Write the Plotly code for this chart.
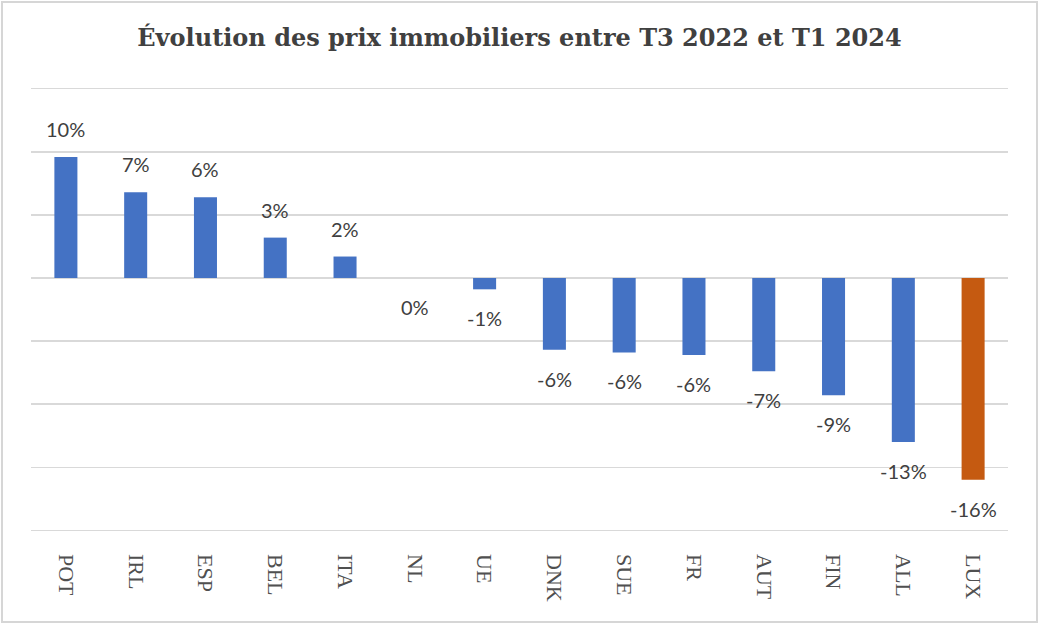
import plotly.graph_objects as go

categories = ["POT", "IRL", "ESP", "BEL", "ITA", "NL", "UE", "DNK", "SUE", "FR", "AUT", "FIN", "ALL", "LUX"]
values = [9.6, 6.8, 6.4, 3.2, 1.7, 0.0, -0.9, -5.7, -5.9, -6.1, -7.4, -9.3, -13.0, -16.0]
highlight = "LUX"

BLUE = "#4472C4"
ORANGE = "#C55A11"
colors = [ORANGE if c == highlight else BLUE for c in categories]
labels = [f"{round(v)}%" for v in values]

W, H = 1040, 625
ml, mr, mt, mb = 31, 32, 85, 91

fig = go.Figure()
fig.add_trace(go.Bar(
    x=categories, y=values, marker=dict(color=colors, line=dict(width=0)),
    width=0.33, hoverinfo="skip", showlegend=False,
))

for c, v, t in zip(categories, values, labels):
    fig.add_annotation(
        x=c, y=v, text=t, showarrow=False,
        yshift=28 if v > 0 else -29,
        font=dict(family="Lato", size=20, color="#404040"),
    )

pw = W - ml - mr
ph = H - mt - mb
fig.add_shape(
    type="rect", xref="paper", yref="paper",
    x0=-(ml - 2) / pw, x1=1 + (mr - 3) / pw,
    y0=-(mb - 3) / ph, y1=1 + (mt - 2) / ph,
    line=dict(color="#D6D6D6", width=2), fillcolor="rgba(0,0,0,0)", layer="below",
)

fig.update_layout(
    width=W, height=H,
    margin=dict(l=ml, r=mr, t=mt, b=mb),
    paper_bgcolor="white", plot_bgcolor="white",
    title=dict(
        text="<b>Évolution des prix immobiliers entre T3 2022 et T1 2024</b>",
        x=0.5, xref="paper", xanchor="center", y=1 - 38 / H, yanchor="middle",
        font=dict(family="DejaVu Serif", size=24, color="#404040"),
    ),
    bargap=0.67,
)
fig.update_yaxes(
    range=[-20.3, 15.3], dtick=5, tick0=0, showticklabels=False,
    showgrid=True, gridcolor="#D9D9D9", gridwidth=1.3,
    zeroline=True, zerolinecolor="#D9D9D9", zerolinewidth=1.3,
    showline=False, fixedrange=True,
)
fig.update_xaxes(
    tickangle=90, showgrid=False, showline=False, ticks="",
    ticklabelstandoff=19,
    tickfont=dict(family="Liberation Serif", size=22, color="#505050"),
    fixedrange=True,
)

fig.write_html(
    "out.html",
    config={"displayModeBar": False, "staticPlot": True},
    post_script="document.body.style.margin='0';document.body.style.overflow='hidden';",
)
